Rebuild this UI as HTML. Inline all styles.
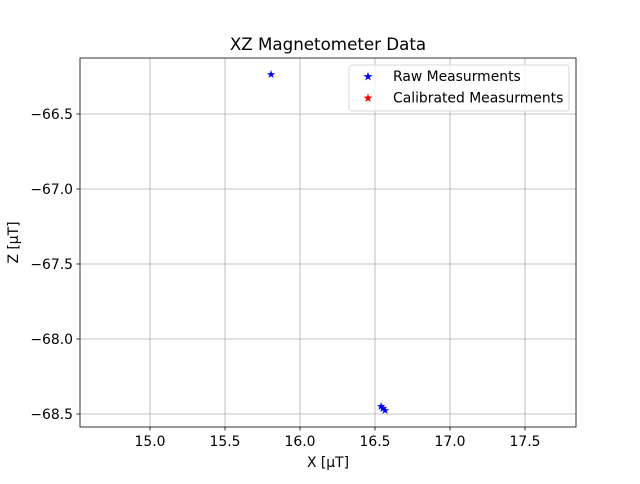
<!DOCTYPE html>
<html><head><meta charset="utf-8"><style>
body{margin:0;background:#fff;font-family:"DejaVu Sans","Liberation Sans",sans-serif;}
svg text{font-family:"DejaVu Sans","Liberation Sans",sans-serif;}
</style></head><body>
<svg id="chart" width="640" height="480" xmlns="http://www.w3.org/2000/svg">
<rect width="640" height="480" fill="#fff"/>
<g id="grid"></g>
<g id="pts"></g>
<rect x="80" y="58" width="496" height="369" fill="none" stroke="#000" stroke-width="0.8"/>
<g id="ticks"></g>
<text x="328" y="50" text-anchor="middle" font-size="16.7">XZ Magnetometer Data</text>
<text x="328" y="467" text-anchor="middle" font-size="13.9">X [μT]</text>
<text transform="translate(18,242.5) rotate(-90)" text-anchor="middle" font-size="13.9">Z [μT]</text>
<g>
<rect x="349" y="65" width="220" height="46" rx="3" fill="#fff" fill-opacity="0.8" stroke="#ccc" stroke-width="0.8"/>
<text x="368" y="80.5" text-anchor="middle" font-size="12" fill="blue">★</text>
<text x="393" y="81" font-size="13.9">Raw Measurments</text>
<text x="368" y="102" text-anchor="middle" font-size="12" fill="red">★</text>
<text x="393" y="102.5" font-size="13.9">Calibrated Measurments</text>
</g>
</svg>
<script>
const rawX=[15.807,16.54,16.553,16.567];
const rawZ=[-66.233,-68.447,-68.46,-68.473];
const xTicks=[15.0,15.5,16.0,16.5,17.0,17.5];
const yTicks=[-66.5,-67.0,-67.5,-68.0,-68.5];
const NS="http://www.w3.org/2000/svg";
const xmin=14.5333,xmax=17.84,ymin=-68.5867,ymax=-66.1267;
const L=80,R=576,T=58,B=427;
function sx(v){return L+(v-xmin)/(xmax-xmin)*(R-L);}
function sy(v){return B-(v-ymin)/(ymax-ymin)*(B-T);}
function mk(t,a){const e=document.createElementNS(NS,t);for(const k in a)e.setAttribute(k,a[k]);return e;}
const g=document.getElementById('grid'),tk=document.getElementById('ticks'),p=document.getElementById('pts');
xTicks.forEach(v=>{const x=sx(v);
const l=mk('line',{x1:x,x2:x,y1:T,y2:B,stroke:'#b0b0b0','stroke-width':0.8});

g.appendChild(l);
const t=mk('line',{x1:x,x2:x,y1:B,y2:B+3.5,stroke:'#000','stroke-width':0.8});tk.appendChild(t);
const s=mk('text',{x:x,y:B+19,'text-anchor':'middle','font-size':13.9});s.textContent=v.toFixed(1);

tk.appendChild(s);});
yTicks.forEach(v=>{const y=sy(v);
const l=mk('line',{x1:L,x2:R,y1:y,y2:y,stroke:'#b0b0b0','stroke-width':0.8});

g.appendChild(l);
const t=mk('line',{x1:L-3.5,x2:L,y1:y,y2:y,stroke:'#000','stroke-width':0.8});tk.appendChild(t);
const s=mk('text',{x:L-7,y:y+5,'text-anchor':'end','font-size':13.9});s.textContent=v.toFixed(1).replace('-','\u2212');

tk.appendChild(s);});
rawX.forEach((v,i)=>{
const s=mk('text',{x:sx(v),y:sy(rawZ[i])+4,'text-anchor':'middle','font-size':11,fill:'blue'});s.textContent='★';

p.appendChild(s);});
</script>
</body></html>
